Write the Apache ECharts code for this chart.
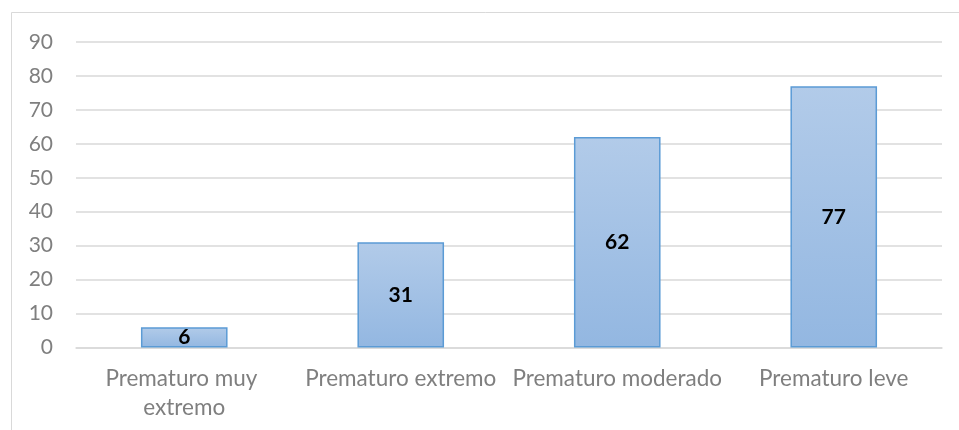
<!DOCTYPE html>
<html>
<head>
<meta charset="utf-8">
<script src="https://cdn.jsdelivr.net/npm/echarts@6/dist/echarts.min.js"></script>
<style>
  html, body { margin: 0; padding: 0; background: #ffffff; }
  #chart { width: 959px; height: 430px; }
</style>
</head>
<body>
<div id="chart"></div>
<script>
// Número de prematuros por categoría
const categories = ['Prematuro muy extremo', 'Prematuro extremo', 'Prematuro moderado', 'Prematuro leve'];
const counts = [6, 31, 62, 77];
const yTicks = { min: 0, max: 90, interval: 10 };

const FONT = 'Lato';
const chart = echarts.init(document.getElementById('chart'), null, { renderer: 'canvas' });

chart.setOption({
  backgroundColor: '#ffffff',
  animation: false,
  graphic: [{
    type: 'rect',
    shape: { x: 11.5, y: 12.5, width: 1200, height: 1200 },
    style: { fill: 'none', stroke: '#d9d9d9', lineWidth: 1 },
    silent: true
  }],
  grid: { left: 76, right: 17, top: 42, bottom: 82.5, containLabel: false },
  xAxis: {
    type: 'category',
    data: categories,
    axisLine: { show: true, lineStyle: { color: '#d9d9d9', width: 1.5 } },
    axisTick: { show: false },
    axisLabel: {
      interval: 0,
      color: '#7f7f7f',
      fontFamily: FONT,
      fontSize: 22.5,
      lineHeight: 29,
      margin: 17,
      width: 214,
      overflow: 'break'
    }
  },
  yAxis: {
    type: 'value',
    min: yTicks.min,
    max: yTicks.max,
    interval: yTicks.interval,
    axisLine: { show: false },
    axisTick: { show: false },
    splitLine: { lineStyle: { color: '#d9d9d9', width: 1.5 } },
    axisLabel: {
      color: '#7f7f7f',
      fontFamily: FONT,
      fontSize: 21,
      margin: 23
    }
  },
  series: [{
    type: 'bar',
    data: counts,
    barWidth: '40%',
    itemStyle: {
      color: {
        type: 'linear', x: 0, y: 0, x2: 0, y2: 1,
        colorStops: [
          { offset: 0, color: '#b2cbe9' },
          { offset: 1, color: '#93b7e1' }
        ]
      },
      borderColor: '#5b9bd5',
      borderWidth: 1.5
    },
    label: {
      show: true,
      position: 'inside',
      color: '#000000',
      fontFamily: FONT,
      fontWeight: 'bold',
      fontSize: 21
    }
  }]
});
</script>
</body>
</html>
